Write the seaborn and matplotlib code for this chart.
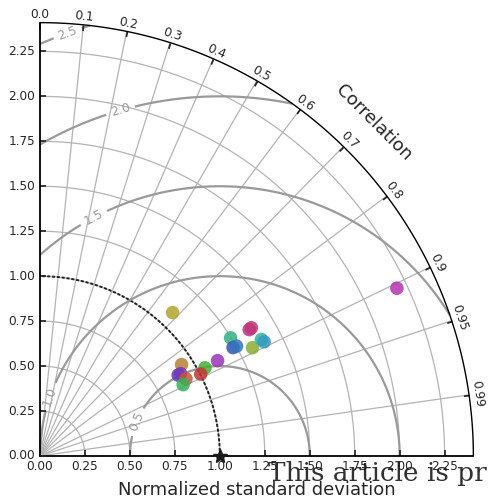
import numpy as np
import matplotlib
matplotlib.use("Agg")
import matplotlib.pyplot as plt
import seaborn as sns
from matplotlib.projections import PolarAxes
import mpl_toolkits.axisartist.floating_axes as FA
import mpl_toolkits.axisartist.grid_finder as GF

# ---------------- data ----------------
ref_std = 1.0
model_names = [f"M{i}" for i in range(1, 19)]
model_std = [1.086, 0.937, 0.890, 0.906, 0.918, 0.889, 1.040, 1.003, 1.121,
             1.247, 1.231, 1.252, 1.359, 1.375, 1.326, 1.391, 1.399, 2.193]
model_corr = [0.679, 0.840, 0.863, 0.863, 0.884, 0.895, 0.882, 0.891, 0.881,
              0.850, 0.872, 0.873, 0.856, 0.855, 0.891, 0.885, 0.891, 0.905]
corr_ticks = [0.0, 0.1, 0.2, 0.3, 0.4, 0.5, 0.6, 0.7, 0.8, 0.9, 0.95, 0.99]
corr_labels = ["0.0", "0.1", "0.2", "0.3", "0.4", "0.5", "0.6", "0.7", "0.8",
               "0.9", "0.95", "0.99"]
std_ticks = [0.0, 0.25, 0.5, 0.75, 1.0, 1.25, 1.5, 1.75, 2.0, 2.25]
std_labels = ["0.00", "0.25", "0.50", "0.75", "1.00", "1.25", "1.50", "1.75",
              "2.00", "2.25"]
rms_levels = [0.5, 1.0, 1.5, 2.0, 2.5]
std_max = 2.41

colors = ["#b3a52c", "#b5803a", "#5a40c0", "#7a35b5", "#c0583a", "#3aae55",
          "#45b035", "#c03535", "#9a35b8", "#35b080", "#3555b5", "#3575c0",
          "#b5358a", "#c03575", "#8aad35", "#35b0a5", "#359ac0", "#b035b0"]

# ---------------- style ----------------
sns.set_theme(style="white", rc={"axes.edgecolor": "black", "axes.linewidth": 1.2})
plt.rcParams["font.family"] = ["DejaVu Sans"]

fig = plt.figure(figsize=(4.89, 4.98), dpi=100)

tr = PolarAxes.PolarTransform(apply_theta_transforms=False)
tlocs = np.arccos(corr_ticks)
gl1 = GF.FixedLocator(tlocs)
tf1 = GF.DictFormatter(dict(zip(tlocs, corr_labels)))
gl2 = GF.FixedLocator(std_ticks)
tf2 = GF.DictFormatter(dict(zip(std_ticks, std_labels)))

ghelper = FA.GridHelperCurveLinear(tr, extremes=(0, np.pi / 2, 0, std_max),
                                   grid_locator1=gl1, tick_formatter1=tf1,
                                   grid_locator2=gl2, tick_formatter2=tf2)
ax = fig.add_axes([35.7 / 489, 37.7 / 498, 442 / 489, 442 / 498],
                  axes_class=FA.FloatingAxes, grid_helper=ghelper)

ax.axis["top"].set_axis_direction("bottom")
ax.axis["top"].toggle(ticklabels=True, label=True)
ax.axis["top"].major_ticklabels.set_axis_direction("top")
ax.axis["top"].label.set_axis_direction("top")
ax.axis["top"].label.set_text("Correlation")

ax.axis["left"].set_axis_direction("bottom")
ax.axis["left"].label.set_text("Normalized standard deviation")

ax.axis["right"].set_axis_direction("top")
ax.axis["right"].toggle(ticklabels=True)
ax.axis["right"].major_ticklabels.set_axis_direction("left")
ax.axis["bottom"].set_visible(False)

for name in ["top", "left", "right"]:
    ax.axis[name].major_ticklabels.set_fontsize(8.7)
    ax.axis[name].major_ticks.set_ticksize(4)
    ax.axis[name].line.set_linewidth(1.3)
ax.axis["top"].line.set_linewidth(1.0)
ax.axis["top"].label.set_fontsize(13)
ax.axis["top"].label.set_pad(11)
ax.axis["left"].label.set_fontsize(13)
ax.axis["left"].label.set_pad(8)

ax.grid(True, color="#b3b3b3", linewidth=0.9)

aux = ax.get_aux_axes(tr)

# reference arc and point
t = np.linspace(0, np.pi / 2, 300)
aux.plot(t, np.full_like(t, ref_std), color="#222222", ls="--", lw=1.4, dashes=(1.6, 0.9))
aux.plot([0], [ref_std], "k*", ms=10, clip_on=False, zorder=6)

# RMS contours
rs, ts = np.meshgrid(np.linspace(0, std_max, 300), np.linspace(0, np.pi / 2, 300))
rms = np.sqrt(ref_std ** 2 + rs ** 2 - 2 * ref_std * rs * np.cos(ts))
cs = aux.contour(ts, rs, rms, levels=rms_levels, colors="#9a9a9a", linewidths=1.6)
label_pos = [(0.339, 0.571), (1.405, 0.334), (1.354, 1.367), (1.345, 1.983), (1.507, 2.365)]
aux.clabel(cs, inline=True, fmt="%.1f", fontsize=9, manual=label_pos)

# model points
theta = np.arccos(model_corr)
sns.scatterplot(x=theta, y=model_std, hue=model_names, palette=dict(zip(model_names, colors)),
                ax=aux, s=95, alpha=0.85, linewidth=0, legend=False, zorder=5)

fig.text(268 / 489, 1 - 481 / 498, "This article is pr", family="DejaVu Serif",
         fontsize=18.9, color="#1a1a1a", alpha=0.9)

fig.savefig("out.png", dpi=100)
